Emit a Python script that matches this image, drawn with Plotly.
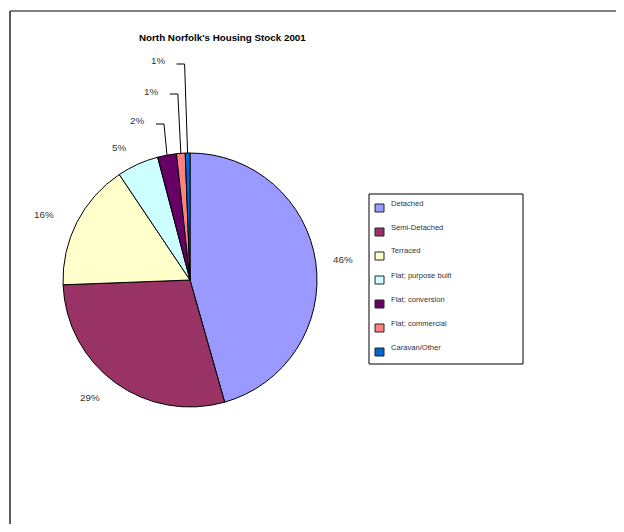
import math
import plotly.graph_objects as go

# ---- data ----
categories = ["Detached", "Semi-Detached", "Terraced", "Flat; purpose built",
              "Flat; conversion", "Flat; commercial", "Caravan/Other"]
shares = [45.6, 28.8, 16.2, 5.3, 2.4, 1.1, 0.6]
colors = ["#9999FF", "#993366", "#FFFFCC", "#CCFFFF", "#660066", "#FF8080", "#0066CC"]
title_text = "North Norfolk's Housing Stock 2001"

OFF = 8                      # default page margin of the html body
W, H = 624 - 2 * OFF, 532 - 2 * OFF
CX, CY, R = 190, 280, 127    # pie centre / radius in window pixels
FONT = "Liberation Sans, Arial, sans-serif"


def px(x):
    return (x - OFF) / W


def py(y):
    return 1 - (y - OFF) / H


fig = go.Figure()
fig.add_trace(go.Pie(
    labels=categories, values=shares, sort=False, direction="clockwise",
    rotation=0, textinfo="none", hoverinfo="label+percent",
    marker=dict(colors=colors, line=dict(color="black", width=1)),
    domain=dict(x=[px(CX - R), px(CX + R)], y=[py(CY + R), py(CY - R)]),
    showlegend=False,
))

annotations = []
shapes = []

# outer frame (only left/top edges fall inside the view)
shapes.append(dict(type="line", xref="paper", yref="paper",
                   x0=px(10), x1=px(10), y0=py(11), y1=py(532),
                   line=dict(color="black", width=1.3)))
shapes.append(dict(type="line", xref="paper", yref="paper",
                   x0=px(10), x1=px(624), y0=py(11), y1=py(11),
                   line=dict(color="#555555", width=1.3)))

annotations.append(dict(text="<b>" + title_text + "</b>", x=px(222), y=py(38),
                        xref="paper", yref="paper", showarrow=False,
                        xanchor="center", yanchor="middle",
                        font=dict(family=FONT, size=9.8, color="black")))

# percentage labels
total = sum(shares)
cum = 0
small_level = 0
for i, v in enumerate(shares):
    mid = (cum + v / 2) / total
    cum += v
    th = 2 * math.pi * mid
    pct = f"{round(v / total * 100):.0f}%"
    if v >= 3:
        s = math.sin(th)
        kx = 1.08 if s > 0 else 1.14
        lx = CX + kx * 132 * s
        ly = CY - 1.2 * 121 * math.cos(th)
        anchor = "left" if s > 0 else "right"
        annotations.append(dict(text=pct, x=px(lx), y=py(ly), xref="paper", yref="paper",
                                xanchor=anchor, yanchor="middle", showarrow=False,
                                font=dict(family=FONT, size=9.8, color="#333333")))
    else:
        ex = CX + R * math.sin(th)
        ey = CY - R * math.cos(th)
        ly_line = 124 - 30 * small_level
        cx_ = ex - 3
        shapes.append(dict(type="path", xref="paper", yref="paper",
                           path=f"M {px(ex)} {py(ey)} L {px(cx_)} {py(ly_line)} L {px(cx_ - 8)} {py(ly_line)}",
                           line=dict(color="black", width=1)))
        lx = cx_ - 8 - 10
        ly = ly_line - 3
        small_level += 1
        annotations.append(dict(text=pct, x=px(lx), y=py(ly), xref="paper", yref="paper",
                                xanchor="right", yanchor="middle", showarrow=False,
                                font=dict(family=FONT, size=9.8, color="#333333")))

# manual legend
shapes.append(dict(type="rect", xref="paper", yref="paper",
                   x0=px(369), x1=px(523), y0=py(194), y1=py(364),
                   line=dict(color="black", width=1), fillcolor="white"))
for i, (c, lab) in enumerate(zip(colors, categories)):
    top = 204 + 24 * i
    shapes.append(dict(type="rect", xref="paper", yref="paper",
                       x0=px(375), x1=px(384), y0=py(top), y1=py(top + 8),
                       line=dict(color="#222222", width=1), fillcolor=c))
    annotations.append(dict(text=lab, x=px(389), y=py(top - 1), xref="paper", yref="paper",
                            xanchor="left", yanchor="middle", showarrow=False,
                            font=dict(family=FONT, size=7.6, color="#333333")))

fig.update_layout(
    width=W, height=H, margin=dict(l=0, r=0, t=0, b=0),
    paper_bgcolor="white", plot_bgcolor="white",
    shapes=shapes, annotations=annotations, showlegend=False,
)

fig.write_html("out.html")
